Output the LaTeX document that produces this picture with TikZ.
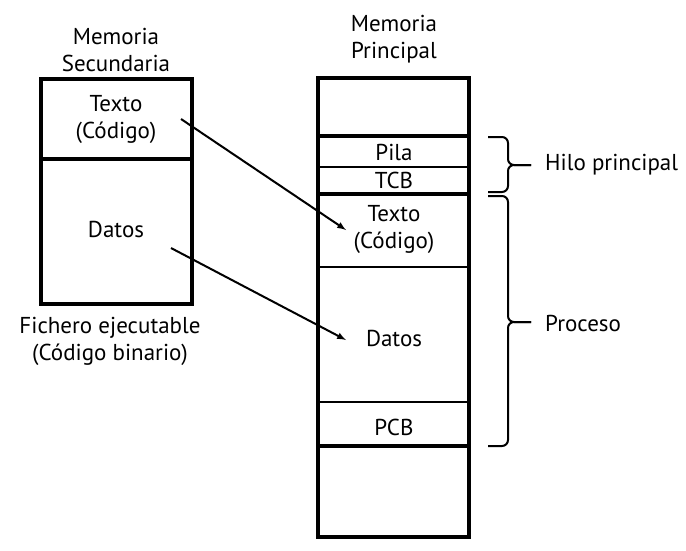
\documentclass[tikz,border=0pt]{standalone}
\usepackage{fontspec}
\setmainfont{PT Sans}
\begin{document}
\begin{tikzpicture}[x=1pt,y=-1pt,>=latex,
  outline/.style={line width=3.5pt},
  thinline/.style={line width=2pt},
  lbl/.style={font=\fontsize{23}{27}\selectfont,align=center,inner sep=0pt},
  llave/.style={line width=2pt,rounded corners=6pt}]
\useasboundingbox (0,0) rectangle (686,550);
% memoria secundaria
\draw[outline] (41,79) rectangle (192,304);
\draw[outline] (41,159) -- (192,159);
\node[lbl] (secTit) at (116,50) {Memoria\\Secundaria};
\node[lbl] (secTexto) at (116,119) {Texto\\(Código)};
\node[lbl] (secDatos) at (116,229) {Datos};
\node[lbl] (fichero) at (110,341) {Fichero ejecutable\\(Código binario)};
% memoria principal
\draw[outline] (318,78) rectangle (469,537);
\draw[outline] (318,136) -- (469,136);
\draw[thinline] (318,167) -- (469,167);
\draw[outline] (318,194) -- (469,194);
\draw[thinline] (318,267) -- (469,267);
\draw[thinline] (318,402) -- (469,402);
\draw[outline] (318,446) -- (469,446);
\node[lbl] (priTit) at (394,39) {Memoria\\Principal};
\node[lbl] (pila) at (394,152) {Pila};
\node[lbl] (tcb) at (394,180) {TCB};
\node[lbl] (priTexto) at (394,229) {Texto\\(Código)};
\node[lbl] (priDatos) at (394,338) {Datos};
\node[lbl] (pcb) at (394,427) {PCB};
% flechas
\coordinate (a1) at (181,119);
\coordinate (b1) at (346,230);
\coordinate (a2) at (171,248);
\coordinate (b2) at (346,340);
\draw[thinline,->] (a1) -- (b1);
\draw[thinline,->] (a2) -- (b2);
% llaves
\coordinate (h1) at (488,137);
\coordinate (h2) at (488,192);
\coordinate (hm) at (508,165);
\coordinate (p1) at (488,196);
\coordinate (p2) at (488,446);
\coordinate (pm) at (508,322);
\draw[llave] (h1) -- ++(20,0) -- (hm) -- ++(23,0);
\draw[llave] (h2) -- ++(20,0) -- (hm) -- ++(23,0);
\draw[llave] (p1) -- ++(20,0) -- (pm) -- ++(23,0);
\draw[llave] (p2) -- ++(20,0) -- (pm) -- ++(23,0);
\node[lbl,anchor=west] (hilo) at (545,165) {Hilo principal};
\node[lbl,anchor=west] (proceso) at (545,323) {Proceso};
\end{tikzpicture}
\end{document}
